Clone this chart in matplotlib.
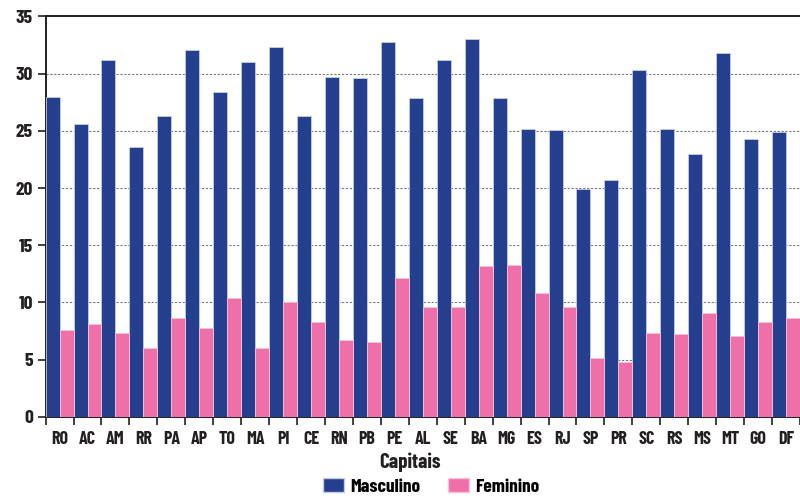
import matplotlib
matplotlib.use("Agg")
import matplotlib.pyplot as plt
from matplotlib.patches import Patch
import numpy as np

capitais = ["RO", "AC", "AM", "RR", "PA", "AP", "TO", "MA", "PI", "CE", "RN", "PB", "PE", "AL",
            "SE", "BA", "MG", "ES", "RJ", "SP", "PR", "SC", "RS", "MS", "MT", "GO", "DF"]
masculino = [28.0, 25.6, 31.2, 23.6, 26.3, 32.1, 28.4, 31.0, 32.3, 26.3, 29.7, 29.6, 32.8, 27.9,
             31.2, 33.0, 27.9, 25.2, 25.1, 19.9, 20.7, 30.3, 25.2, 23.0, 31.8, 24.3, 24.9]
feminino = [7.6, 8.1, 7.3, 6.0, 8.6, 7.8, 10.4, 6.0, 10.0, 8.3, 6.7, 6.5, 12.1, 9.6,
            9.6, 13.2, 13.3, 10.8, 9.6, 5.1, 4.8, 7.3, 7.2, 9.1, 7.1, 8.3, 8.6]
y_ticks = [0, 5, 10, 15, 20, 25, 30, 35]

AZUL = "#243f8e"
ROSA = "#ef70a9"
TEXTO = "#231f20"
FONT = ["Barlow Condensed", "DejaVu Sans"]

plt.rcParams["font.family"] = FONT

fig = plt.figure(figsize=(8.0, 4.98), dpi=100)
ax = fig.add_axes([0.057, 0.163, 0.943, 0.804])

x = np.arange(len(capitais))
ax.bar(x - 0.25, masculino, width=0.5, color=AZUL, edgecolor="#c9cde3", linewidth=0.6,
       zorder=3, label="Masculino")
ax.bar(x + 0.25, feminino, width=0.5, color=ROSA, edgecolor="#f6c3da", linewidth=0.6,
       zorder=3, label="Feminino")

ax.set_xlim(-0.5, len(capitais) - 0.5)
ax.set_ylim(0, 35)
ax.set_yticks(y_ticks)
ax.set_yticklabels([str(v) for v in y_ticks], fontsize=14, fontweight="bold", color=TEXTO)
for v in y_ticks[1:-1]:
    ax.axhline(v, color="#777777", linestyle=(0, (2, 1.5)), linewidth=0.8, zorder=1)

# category boundaries carry the tick marks, centres carry the labels
ax.set_xticks(np.arange(-0.5, len(capitais), 1.0))
ax.set_xticklabels([])
ax.set_xticks(x, minor=True)
ax.set_xticklabels(capitais, minor=True, fontsize=13, fontweight="bold", color=TEXTO)
ax.tick_params(axis="x", which="major", length=6, width=1.2, color=TEXTO, direction="out")
ax.tick_params(axis="x", which="minor", length=0, pad=10)
ax.tick_params(axis="y", length=6, width=1.2, color=TEXTO, direction="out", pad=3)

for side in ["left", "bottom", "top"]:
    ax.spines[side].set_color(TEXTO)
    ax.spines[side].set_linewidth(1.4)
ax.spines["right"].set_visible(False)

fig.text(409.5 / 800, 1 - 462 / 498, "Capitais", ha="center", va="center",
         fontsize=15, fontweight="bold", color=TEXTO)

handles = [Patch(facecolor=AZUL, edgecolor="#c9cde3", label="Masculino"),
           Patch(facecolor=ROSA, edgecolor="#f6c3da", label="Feminino")]
fig.legend(handles=handles, loc="center", bbox_to_anchor=(431 / 800, 1 - 487 / 498), ncol=2,
           frameon=False, prop={"family": FONT, "weight": "bold", "size": 14},
           handlelength=1.12, handleheight=0.72, columnspacing=1.4, handletextpad=0.3,
           borderpad=0.0, borderaxespad=0.0)

fig.savefig("out.png", dpi=100)
